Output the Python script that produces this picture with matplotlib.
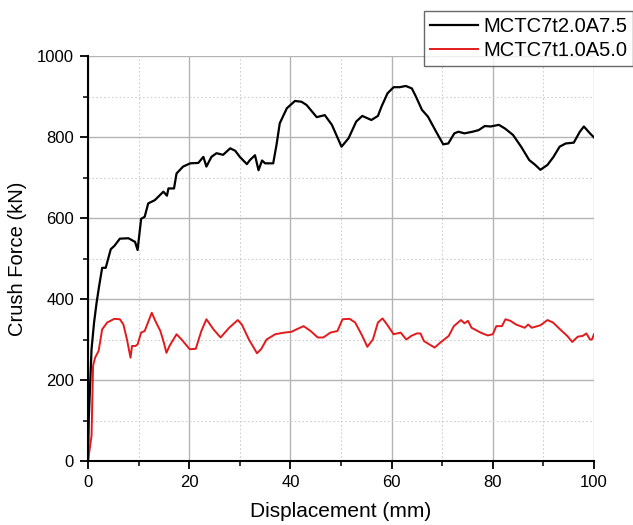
import matplotlib
matplotlib.use("Agg")
import matplotlib.pyplot as plt
from matplotlib.ticker import MultipleLocator

plt.rcParams['font.family'] = ['Liberation Sans', 'DejaVu Sans']

# MCTC7t2.0A7.5 (black)
x_black = [0, 0.15, 0.7, 1.2, 1.7, 2.2, 2.8, 3.5, 4.5, 5.2, 6.3, 8.0, 9.3, 9.8, 10.5, 11.2, 11.9,
           13.2, 14.9, 15.6, 15.9, 17.0, 17.5, 18.8, 20.2, 21.8, 22.8, 23.4, 24.4, 25.4, 26.7,
           28.1, 29.1, 30.0, 31.4, 32.0, 33.0, 33.7, 34.4, 35.0, 36.0, 36.6, 37.3, 37.9, 39.3,
           40.9, 42.2, 43.2, 45.2, 46.8, 48.2, 50.1, 51.5, 53.0, 54.2, 56.0, 57.3, 58.0, 59.2,
           60.4, 61.6, 62.8, 64.0, 64.8, 66.0, 67.2, 68.8, 70.2, 71.2, 72.4, 73.2, 74.4, 76.0,
           77.2, 78.4, 79.6, 81.2, 82.4, 84.0, 85.6, 87.2, 88.4, 89.4, 90.8, 92.0, 93.2, 94.4,
           96.0, 97.2, 98.0, 99.2, 100.0]
y_black = [0, 103, 276, 342, 391, 432, 477, 477, 523, 531, 549, 550, 541, 521, 598, 603, 636,
           644, 665, 655, 673, 673, 710, 727, 735, 736, 751, 727, 751, 760, 756,
           772, 766, 751, 733, 743, 755, 718, 742, 735, 735, 735, 784, 834, 871,
           889, 887, 879, 849, 854, 830, 776, 797, 838, 852, 842, 852, 875, 908,
           923, 923, 926, 920, 900, 867, 850, 813, 782, 784, 809, 813, 809, 813,
           817, 827, 826, 830, 821, 805, 776, 743, 731, 719, 731, 751, 776, 784,
           786, 813, 826, 809, 799]

# MCTC7t1.0A5.0 (red)
x_red = [0, 0.7, 1.0, 1.4, 2.1, 2.8, 3.8, 5.2, 6.3, 7.0, 7.7, 8.4, 8.7, 9.4, 9.8, 10.5, 11.2,
         12.6, 13.3, 14.3, 15.0, 15.5, 16.1, 17.5, 18.5, 20.1, 21.3, 22.4, 23.4, 24.8, 26.2,
         27.9, 29.6, 30.4, 31.8, 33.4, 34.2, 35.3, 37.0, 38.8, 40.2, 41.2, 42.6, 44.0, 45.4,
         46.5, 47.9, 49.3, 50.3, 51.7, 52.8, 54.2, 55.2, 56.3, 57.3, 58.2, 59.1, 60.4, 61.8,
         62.9, 63.9, 65.0, 65.7, 66.4, 68.5, 69.5, 71.3, 72.3, 73.7, 74.4, 75.1, 75.8, 77.6,
         79.0, 80.0, 80.7, 81.8, 82.5, 83.5, 84.6, 86.3, 87.0, 87.7, 89.4, 90.8, 91.9, 93.3,
         94.7, 95.7, 96.8, 97.8, 98.5, 99.2, 99.6, 100.0]
y_red = [0, 62, 235, 255, 272, 325, 342, 351, 350, 337, 300, 255, 284, 284, 288, 317, 321,
         366, 346, 321, 292, 267, 284, 313, 300, 276, 277, 321, 350, 325, 305,
         329, 348, 337, 300, 266, 276, 300, 313, 317, 319, 325, 333, 321, 305,
         305, 317, 321, 350, 351, 342, 309, 282, 300, 342, 352, 337, 313, 317,
         300, 309, 315, 315, 296, 280, 291, 309, 333, 348, 340, 346, 329, 317,
         310, 313, 333, 333, 350, 346, 337, 329, 337, 329, 335, 348, 342, 325,
         309, 294, 307, 309, 315, 300, 300, 313]

labels = ['MCTC7t2.0A7.5', 'MCTC7t1.0A5.0']

fig = plt.figure(figsize=(6.33, 5.25), dpi=100)
ax = fig.add_axes([88/633, 1 - 461/525, (594-88)/633, (461-56)/525])

l1, = ax.plot(x_black, y_black, color='black', lw=1.6, label=labels[0])
l2, = ax.plot(x_red, y_red, color='#e31a1c', lw=1.4, label=labels[1])

ax.set_xlim(0, 100)
ax.set_ylim(0, 1000)
ax.xaxis.set_major_locator(MultipleLocator(20))
ax.xaxis.set_minor_locator(MultipleLocator(10))
ax.yaxis.set_major_locator(MultipleLocator(200))
ax.yaxis.set_minor_locator(MultipleLocator(100))
ax.grid(which='major', color='#b4b4b4', lw=1.0, ls='-')
ax.grid(which='minor', color='#cfcfcf', lw=0.8, ls=(0, (1.5, 2)))
ax.set_axisbelow(True)

for s in ['top', 'right']:
    ax.spines[s].set_visible(False)
for s in ['left', 'bottom']:
    ax.spines[s].set_linewidth(1.5)
ax.tick_params(which='major', direction='out', length=6, width=1.3, labelsize=12, pad=4)
ax.tick_params(which='minor', direction='out', length=3.5, width=1.1)

ax.set_xlabel('Displacement (mm)', fontsize=15, labelpad=9)
ax.set_ylabel('Crush Force (kN)', fontsize=14.5, labelpad=7)

leg = fig.legend(handles=[l1, l2], loc='upper right', bbox_to_anchor=(1.0, 1 - 11/525),
                 fontsize=14.5, frameon=True, fancybox=False, edgecolor='#444444',
                 handlelength=2.4, handletextpad=0.25, borderpad=0.3, labelspacing=0.25,
                 borderaxespad=0)
leg.get_frame().set_linewidth(1.0)

fig.savefig('out.png', dpi=100)
